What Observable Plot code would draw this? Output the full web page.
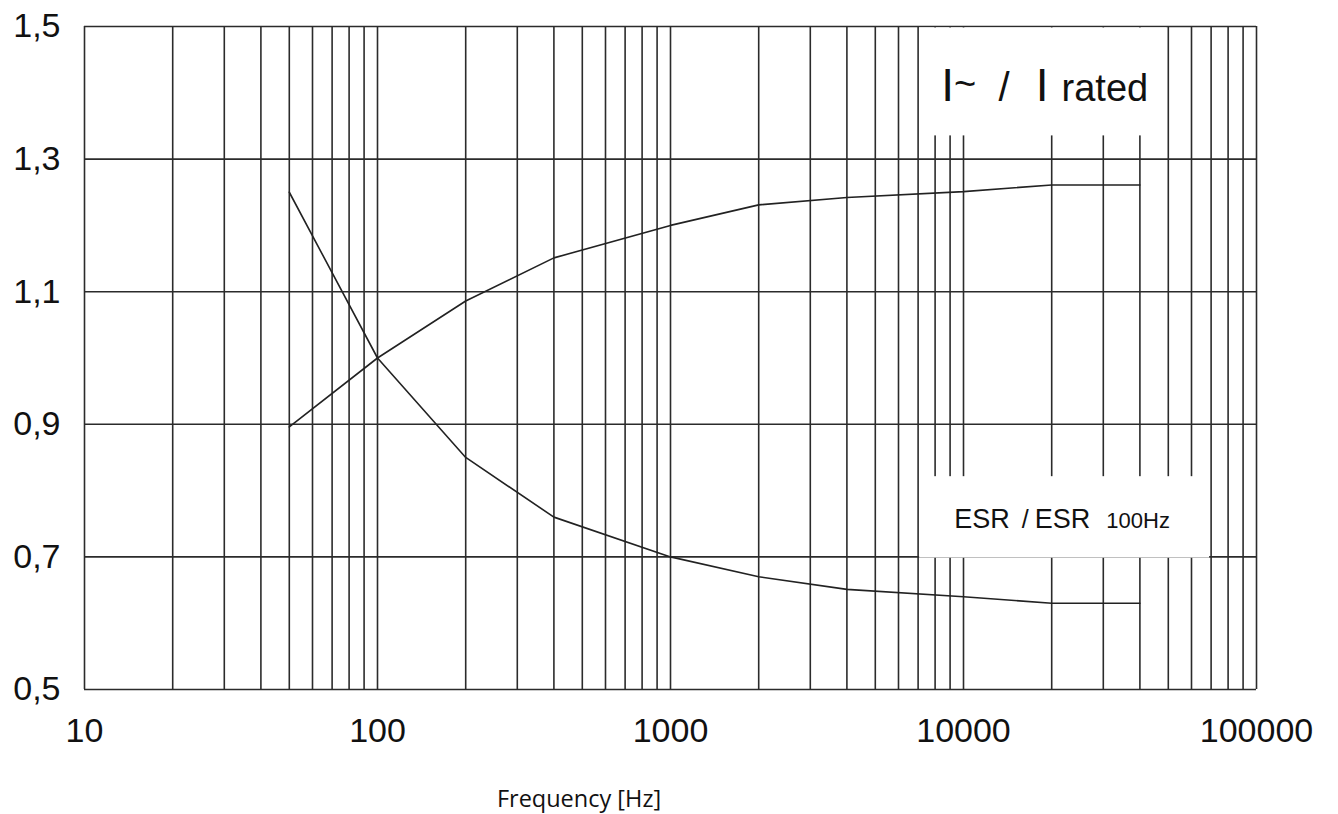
<!DOCTYPE html>
<html>
<head>
<meta charset="utf-8">
<script src="https://cdn.jsdelivr.net/npm/d3@7"></script>
<script src="https://cdn.jsdelivr.net/npm/@observablehq/plot@0.6"></script>
<style>
  html, body { margin: 0; padding: 0; background: #fff; }
  #chart svg { display: block; }
</style>
</head>
<body>
<div id="chart"></div>
<script>
// ---- data ----
const frequency = [50, 100, 200, 400, 1000, 2000, 4000, 10000, 20000, 40000];
const currentRatio = [0.896, 1.0, 1.086, 1.151, 1.2, 1.231, 1.242, 1.251, 1.261, 1.261];
const esrRatio = [1.25, 1.0, 0.85, 0.76, 0.70, 0.67, 0.651, 0.64, 0.63, 0.63];
const xTicks = [10, 100, 1000, 10000, 100000];
const yTicks = [0.5, 0.7, 0.9, 1.1, 1.3, 1.5];
const xGrid = [10, 20, 30, 40, 50, 60, 70, 80, 90,
  100, 200, 300, 400, 500, 600, 700, 800, 900,
  1000, 2000, 3000, 4000, 5000, 6000, 7000, 8000, 9000,
  10000, 20000, 30000, 40000, 50000, 60000, 70000, 80000, 90000, 100000];
const xLabel = "Frequency [Hz]";
const currentLabel = ["I", "~", "/", "I", "rated"];
const esrLabel = ["ESR", "/", "ESR", "100Hz"];

const currentRows = frequency.map((f, i) => ({f, v: currentRatio[i]}));
const esrRows = frequency.map((f, i) => ({f, v: esrRatio[i]}));

const gridColor = "#2b2b2b";

const chart = Plot.plot({
  width: 1338,
  height: 814,
  marginLeft: 84,
  marginRight: 82,
  marginTop: 26,
  marginBottom: 125,
  style: {fontFamily: "'Liberation Sans', Arial, sans-serif", fontSize: "34px", color: "#111", background: "#fff"},
  x: {type: "log", domain: [10, 100000], ticks: xTicks, tickFormat: d => String(d), tickSize: 0, tickPadding: 28, label: null},
  y: {domain: [0.5, 1.5], ticks: yTicks, tickFormat: d => d.toFixed(1).replace(".", ","), tickSize: 0, tickPadding: 24, label: null},
  marks: [
    Plot.ruleX(xGrid, {stroke: gridColor, strokeWidth: 1.6, strokeOpacity: 1}),
    Plot.ruleY(yTicks, {stroke: gridColor, strokeWidth: 1.6, strokeOpacity: 1}),
    // label backgrounds hiding the grid
    Plot.rect([0], {x1: 7000, x2: 50000, y1: 1.335, y2: 1.5, fill: "#fff", insetLeft: 1.5, insetRight: 1.5, insetTop: 1.5}),
    Plot.rect([0], {x1: 7000, x2: 70000, y1: 0.7, y2: 0.821, fill: "#fff", insetLeft: 1.5, insetRight: 1.5, insetBottom: -1.2}),
    Plot.line(currentRows, {x: "f", y: "v", stroke: "#222", strokeWidth: 1.6}),
    Plot.line(esrRows, {x: "f", y: "v", stroke: "#222", strokeWidth: 1.6})
  ]
});

document.getElementById("chart").appendChild(chart);

const sx = chart.scale("x"), sy = chart.scale("y");
const svg = d3.select(chart);
const fam = "'Liberation Sans', Arial, sans-serif";

// I~ / I rated
const cx1 = (sx.apply(7000) + sx.apply(50000)) / 2 + 2;
const t1 = svg.append("text")
  .attr("x", cx1).attr("y", sy.apply(1.387))
  .attr("text-anchor", "middle")
  .attr("font-family", fam).attr("fill", "#111");
t1.append("tspan").attr("font-size", 46).text(currentLabel[0]);
t1.append("tspan").attr("font-size", 38).attr("dy", -4).text(currentLabel[1]);
t1.append("tspan").attr("font-size", 40).attr("dy", 4).attr("xml:space", "preserve").text("  " + currentLabel[2] + "  ");
t1.append("tspan").attr("font-size", 46).attr("dx", 4).text(currentLabel[3]);
t1.append("tspan").attr("font-size", 38).attr("dx", 13).text(currentLabel[4]);

// ESR / ESR 100Hz
const cx2 = (sx.apply(7000) + sx.apply(70000)) / 2 - 2;
const t2 = svg.append("text")
  .attr("x", cx2).attr("y", sy.apply(0.743))
  .attr("text-anchor", "middle")
  .attr("font-family", fam).attr("fill", "#111");
t2.append("tspan").attr("font-size", 27).text(esrLabel[0]);
t2.append("tspan").attr("font-size", 25).attr("dx", 12).text(esrLabel[1]);
t2.append("tspan").attr("font-size", 27).attr("dx", 6).text(esrLabel[2]);
t2.append("tspan").attr("font-size", 22).attr("dx", 16).text(esrLabel[3]);

// axis title
svg.append("text")
  .attr("x", 579).attr("y", 807)
  .attr("text-anchor", "middle")
  .attr("font-family", "'Open Sans', sans-serif")
  .attr("font-size", 23.5).attr("fill", "#111")
  .text(xLabel);
</script>
</body>
</html>
